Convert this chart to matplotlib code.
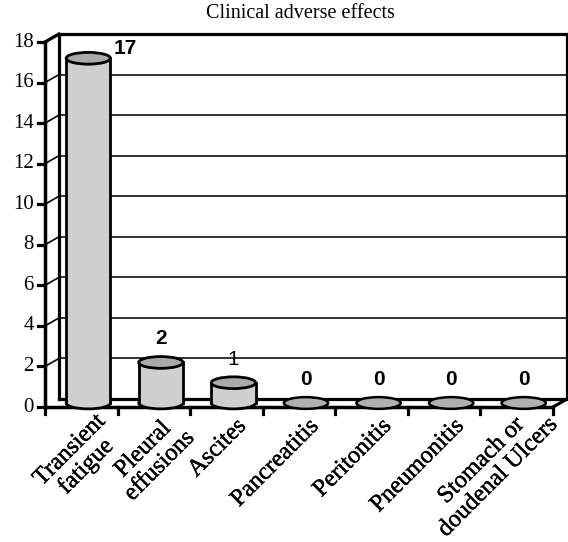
import matplotlib
matplotlib.use("Agg")
import matplotlib.pyplot as plt
import matplotlib.transforms as mtransforms
import matplotlib.patheffects as pe
from matplotlib.patches import Ellipse, Rectangle

# data
categories = ["Transient\nfatigue", "Pleural\neffusions", "Ascites", "Pancreatitis",
              "Peritonitis", "Pneumonitis", "Stomach or\ndoudenal Ulcers"]
values = [17, 2, 1, 0, 0, 0, 0]
label_weights = ["bold", "bold", "normal", "bold", "bold", "bold", "bold"]
yticks = list(range(0, 19, 2))

body_color = "#cfcfcf"
top_color = "#aaaaaa"
zero_color = "#b0b0b0"
heavy = [pe.withStroke(linewidth=0.3, foreground="black")]

fig = plt.figure(figsize=(5.68, 5.42), dpi=100)
ax = fig.add_axes([45 / 568, 135 / 542, 508 / 568, 365 / 542])
ax.set_xlim(0, len(categories))
ax.set_ylim(0, 18)
ax.axis("off")

# depth offsets (in inches, 100 dpi)
dx, dy = 0.14, 0.08
back = ax.transData + mtransforms.ScaledTranslation(dx, dy, fig.dpi_scale_trans)
mid = ax.transData + mtransforms.ScaledTranslation(dx / 2, dy / 2, fig.dpi_scale_trans)
n = len(categories)


def seg(p0, p1, tr0, tr1, **kw):
    x0, y0 = tr0.transform(p0)
    x1, y1 = tr1.transform(p1)
    ax.add_line(plt.Line2D([x0, x1], [y0, y1], transform=None, clip_on=False, **kw))


# gridlines on back wall + diagonals on side wall
for t in yticks[1:-1]:
    ax.plot([0, n], [t, t], color="#222222", lw=1.3, transform=back, clip_on=False)
    seg((0, t), (0, t), ax.transData, back, color="black", lw=1.2)

# back wall border
ax.plot([0, 0, n, n, 0], [0, 18, 18, 0, 0], color="black", lw=2.3,
        transform=back, clip_on=False, solid_joinstyle="miter")

# floor diagonal at the right and top of side wall
seg((n, 0), (n, 0), ax.transData, back, color="black", lw=2.3)
seg((0, 18), (0, 18), ax.transData, back, color="black", lw=2.3)

# front axes
ax.plot([0, 0], [0, 18], color="black", lw=2.5, clip_on=False, solid_capstyle="projecting")
ax.plot([0, n], [0, 0], color="black", lw=2.5, clip_on=False, solid_capstyle="projecting")

# ticks
tick_tr = ax.transData + mtransforms.ScaledTranslation(-0.07, 0, fig.dpi_scale_trans)
for t in yticks:
    seg((0, t), (0, t), ax.transData, tick_tr, color="black", lw=2.3)
    ax.annotate(str(t), xy=(0, t), xytext=(-8, 0), textcoords="offset points",
                ha="right", va="center", fontsize=15, family="Liberation Serif")
xtick_tr = ax.transData + mtransforms.ScaledTranslation(0, -0.07, fig.dpi_scale_trans)
for i in range(n + 1):
    seg((i, 0), (i, 0), ax.transData, xtick_tr, color="black", lw=2.3)

# cylinders
bw = 0.61
eh = 0.58
for i, v in enumerate(values):
    cx = i + 0.5
    if v > 0:
        ax.add_patch(Ellipse((cx, 0), bw, eh, facecolor=body_color, edgecolor="black",
                             lw=2.0, transform=mid, clip_on=False, zorder=3))
        ax.add_patch(Rectangle((cx - bw / 2, 0), bw, v, facecolor=body_color,
                               edgecolor="none", transform=mid, clip_on=False, zorder=3))
        ax.plot([cx - bw / 2, cx - bw / 2], [0, v], color="black", lw=2.0,
                transform=mid, clip_on=False, zorder=4)
        ax.plot([cx + bw / 2, cx + bw / 2], [0, v], color="black", lw=2.0,
                transform=mid, clip_on=False, zorder=4)
        ax.add_patch(Ellipse((cx, v), bw, eh, facecolor=top_color, edgecolor="black",
                             lw=2.0, transform=mid, clip_on=False, zorder=5))
    else:
        ax.add_patch(Ellipse((cx, 0), bw, eh, facecolor=zero_color, edgecolor="black",
                             lw=1.8, transform=mid, clip_on=False, zorder=5))

    # value labels
    if v + 1.5 > 18:
        off = (18, 7)
        ha = "left"
    else:
        off = (0, 17)
        ha = "center"
    x0, y0 = mid.transform((cx, v))
    xd, yd = ax.transData.inverted().transform((x0, y0))
    ax.annotate(str(v), xy=(xd, yd), xytext=off, textcoords="offset points",
                ha=ha, va="center", fontsize=15, fontweight=label_weights[i],
                family="Liberation Sans", zorder=6)

# category labels (anchored at the right-edge centre of the rotated block)
cat_texts = []
for i, c in enumerate(categories):
    if "\n" in c:
        off = (21, -14)
    else:
        off = (12, -11.5)
    t = ax.annotate(c, xy=(i + 0.5, 0), xytext=off, textcoords="offset points",
                    ha="right", va="center", rotation=45, rotation_mode="anchor",
                    multialignment="center", linespacing=1.15,
                    fontsize=17.5, family="Liberation Serif", path_effects=heavy)
    cat_texts.append(t)

fig.text(300 / 568, 1 - 14 / 542, "Clinical adverse effects", ha="center", va="center",
         fontsize=14.5, family="Liberation Serif")

# push labels that would run off the bottom back inside the figure
fig.canvas.draw()
renderer = fig.canvas.get_renderer()
for t in cat_texts:
    bb = t.get_window_extent(renderer)
    if bb.y0 < 1:
        ox, oy = t.xyann
        t.xyann = (ox, oy + (1 - bb.y0) * 72 / fig.dpi)

fig.savefig("out.png", dpi=100)
